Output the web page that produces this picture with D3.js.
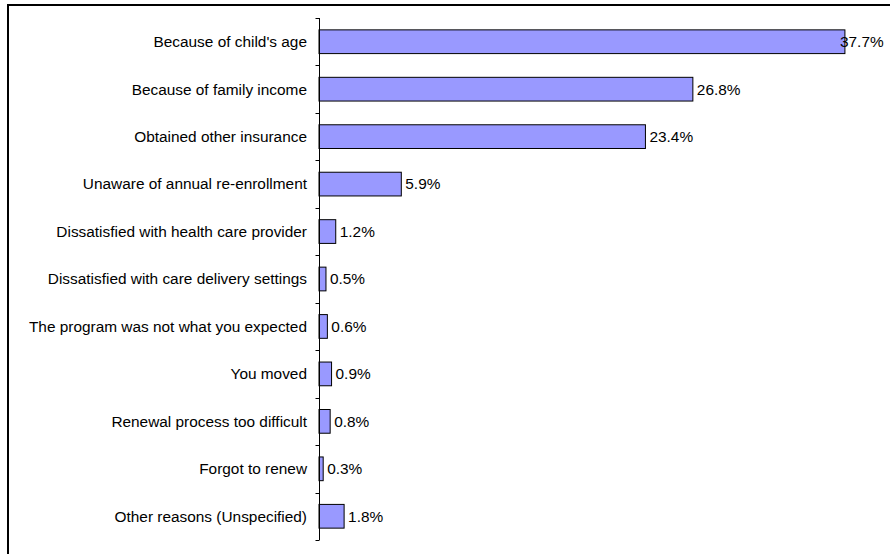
<!DOCTYPE html>
<html>
<head>
<meta charset="utf-8">
<script src="https://cdn.jsdelivr.net/npm/d3@7"></script>
<style>
  html, body { margin: 0; padding: 0; background: #fff; }
  svg { display: block; }
  text { font-family: "Liberation Sans", Arial, sans-serif; fill: #000; font-size: 15.4px; }
</style>
</head>
<body>
<svg id="chart" width="890" height="554"></svg>
<script>
// Reasons for leaving the program, share of respondents (%)
const reasons = [
  "Because of child's age",
  "Because of family income",
  "Obtained other insurance",
  "Unaware of annual re-enrollment",
  "Dissatisfied with health care provider",
  "Dissatisfied with care delivery settings",
  "The program was not what you expected",
  "You moved",
  "Renewal process too difficult",
  "Forgot to renew",
  "Other reasons (Unspecified)"
];
const shares = [37.7, 26.8, 23.4, 5.9, 1.2, 0.5, 0.6, 0.9, 0.8, 0.3, 1.8];

const svg = d3.select("#chart");

// outer chart frame
svg.append("rect")
  .attr("x", 8).attr("y", 5)
  .attr("width", 900).attr("height", 600)
  .attr("fill", "none").attr("stroke", "#000").attr("stroke-width", 2);

const plotLeft = 319, plotTop = 18, plotBottom = 540;
const x = d3.scaleLinear().domain([0, 40]).range([plotLeft, plotLeft + 558]);
const y = d3.scaleBand().domain(reasons).range([plotTop, plotBottom]).paddingInner(0.5).paddingOuter(0.25);

// bars
svg.append("g").selectAll("rect")
  .data(reasons)
  .join("rect")
  .attr("x", x(0))
  .attr("y", d => y(d))
  .attr("width", (d, i) => x(shares[i]) - x(0))
  .attr("height", y.bandwidth())
  .attr("fill", "#9999ff")
  .attr("stroke", "#000")
  .attr("stroke-width", 1);

// category axis with ticks between bands
const axis = svg.append("g").attr("transform", `translate(${plotLeft + 0.5},0)`);
axis.append("line").attr("y1", plotTop).attr("y2", plotBottom).attr("stroke", "#000");
const step = (plotBottom - plotTop) / reasons.length;
axis.selectAll("line.tick")
  .data(d3.range(reasons.length + 1))
  .join("line")
  .attr("class", "tick")
  .attr("x1", -4).attr("x2", 0)
  .attr("y1", i => Math.round(plotTop + i * step) + 0.5)
  .attr("y2", i => Math.round(plotTop + i * step) + 0.5)
  .attr("stroke", "#000");

// category labels
svg.append("g").selectAll("text")
  .data(reasons)
  .join("text")
  .attr("x", 307)
  .attr("y", d => y(d) + y.bandwidth() / 2)
  .attr("dy", "0.35em")
  .attr("text-anchor", "end")
  .text(d => d);

// value labels, kept inside the plot on the right
svg.append("g").selectAll("text")
  .data(shares)
  .join("text")
  .attr("x", v => Math.min(x(v) + 4, 840))
  .attr("y", (v, i) => y(reasons[i]) + y.bandwidth() / 2)
  .attr("dy", "0.35em")
  .text(v => v.toFixed(1) + "%");
</script>
</body>
</html>
